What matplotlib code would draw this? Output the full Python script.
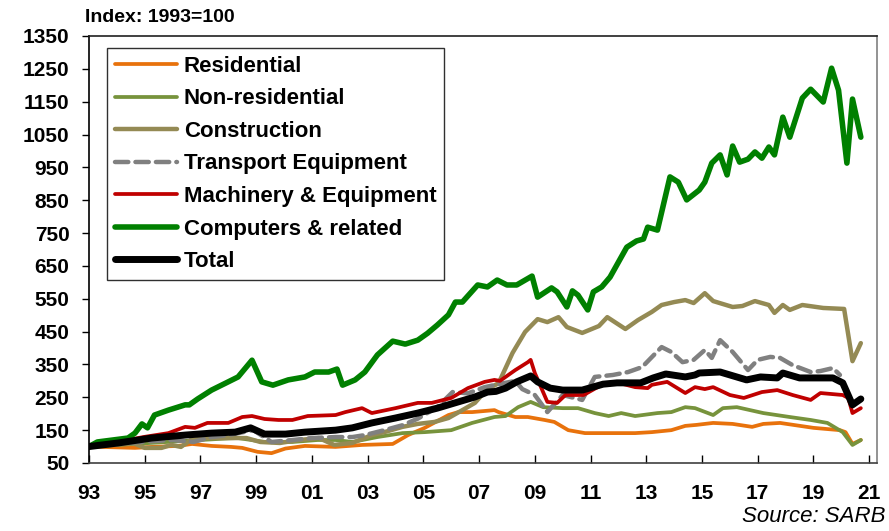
import matplotlib.pyplot as plt

plt.rcParams['font.family'] = ['Liberation Sans', 'DejaVu Sans']

# Index: 1993=100, values (decimal years)
res_years = [1993.0, 1994.65, 1995.25, 1996.2, 1996.7, 1997.4, 1998.1, 1998.5, 1999.05, 1999.55,
             2000.05, 2000.75, 2001.85, 2002.8, 2003.9, 2004.45, 2005.05, 2005.9, 2006.25, 2006.75,
             2007.55, 2007.7, 2008.3, 2008.75, 2009.35, 2009.7, 2010.2, 2010.8, 2011.4, 2012.0,
             2012.6, 2013.2, 2013.9, 2014.4, 2014.8, 2015.4, 2016.1, 2016.8, 2017.2, 2017.8,
             2019.0, 2019.95, 2020.15, 2020.4, 2020.7]
res_vals = [100, 96, 99, 102, 108, 102, 99, 96, 84, 80,
            94, 102, 99, 105, 108, 135, 157, 196, 205, 205,
            211, 205, 190, 190, 181, 175, 150, 141, 141, 141,
            141, 144, 150, 163, 166, 172, 169, 160, 169, 172,
            157, 150, 144, 108, 120]

nonres_years = [1993.0, 1994.0, 1995.0, 1996.0, 1997.0, 1998.0, 1998.35, 1999.3, 2000.3, 2001.2,
                2001.85, 2002.45, 2003.35, 2004.25, 2005.05, 2006.0, 2006.75, 2007.55, 2007.95, 2008.4,
                2008.85, 2009.3, 2010.0, 2010.55, 2011.15, 2011.65, 2012.1, 2012.6, 2013.4, 2013.9,
                2014.4, 2014.75, 2015.4, 2015.75, 2016.25, 2017.2, 2018.15, 2018.9, 2019.5, 2020.05,
                2020.4, 2020.7]
nonres_vals = [100, 105, 110, 115, 120, 125, 126, 114, 114, 120,
               120, 114, 129, 141, 144, 150, 172, 190, 193, 220,
               236, 220, 217, 217, 202, 193, 202, 193, 202, 205,
               220, 217, 196, 217, 220, 202, 190, 181, 172, 144,
               105, 120]

cons_years = [1993.0, 1993.8, 1994.6, 1995.0, 1995.6, 1995.95, 1996.3, 1996.65, 1997.25, 1997.95,
              1998.65, 1999.15, 1999.85, 2000.55, 2001.25, 2001.8, 2002.45, 2003.15, 2003.6, 2004.25,
              2004.8, 2005.4, 2005.9, 2006.4, 2006.85, 2007.1, 2007.3, 2007.7, 2008.2, 2008.65,
              2009.1, 2009.45, 2009.85, 2010.15, 2010.7, 2011.3, 2011.6, 2012.25, 2012.7, 2013.2,
              2013.55, 2014.0, 2014.4, 2014.7, 2015.1, 2015.4, 2016.1, 2016.45, 2016.9, 2017.4,
              2017.6, 2017.9, 2018.15, 2018.6, 2019.35, 2020.1, 2020.4, 2020.7]
cons_vals = [100, 105, 110, 96, 96, 105, 99, 120, 126, 126,
             126, 114, 111, 120, 126, 105, 111, 135, 144, 160,
             169, 175, 187, 211, 233, 257, 275, 293, 385, 449,
             488, 479, 494, 464, 446, 467, 494, 458, 485, 510,
             531, 540, 546, 537, 567, 543, 525, 528, 543, 531,
             507, 531, 516, 531, 522, 519, 360, 415]

trans_years = [1993.0, 1994.0, 1995.0, 1996.0, 1996.75, 1997.4, 1998.0, 1998.9, 1999.55, 2000.3,
               2001.0, 2001.85, 2002.45, 2002.9, 2003.6, 2004.25, 2004.8, 2005.5, 2006.05, 2006.6,
               2007.2, 2007.7, 2008.3, 2008.55, 2009.0, 2009.45, 2010.0, 2010.7, 2011.15, 2011.8,
               2012.35, 2012.85, 2013.55, 2013.9, 2014.3, 2014.7, 2015.1, 2015.35, 2015.65, 2016.1,
               2016.65, 2017.0, 2017.45, 2017.8, 2018.25, 2018.9, 2019.25, 2019.7, 2019.95]
trans_vals = [100, 108, 115, 120, 114, 129, 135, 150, 114, 120,
              126, 129, 129, 135, 150, 165, 185, 220, 266, 262,
              281, 290, 300, 275, 257, 205, 257, 242, 312, 318,
              327, 342, 403, 388, 357, 364, 394, 370, 424, 388,
              333, 364, 373, 370, 348, 327, 330, 339, 318]

mach_years = [1993.0, 1994.4, 1994.95, 1995.85, 1996.45, 1996.8, 1997.25, 1998.0, 1998.5, 1998.85,
              1999.3, 1999.8, 2000.3, 2000.85, 2001.85, 2002.2, 2002.8, 2003.15, 2004.0, 2004.8,
              2005.3, 2006.0, 2006.6, 2007.2, 2007.55, 2007.75, 2008.3, 2008.75, 2008.85, 2009.0,
              2009.45, 2009.8, 2010.1, 2010.75, 2011.4, 2012.0, 2012.6, 2013.05, 2013.2, 2013.75,
              2014.4, 2014.75, 2015.1, 2015.4, 2016.0, 2016.5, 2017.15, 2017.7, 2018.25, 2018.9,
              2019.25, 2020.05, 2020.25, 2020.4, 2020.7]
mach_vals = [100, 120, 129, 141, 160, 157, 172, 172, 190, 193,
             184, 181, 181, 193, 196, 205, 217, 202, 217, 233,
             233, 248, 278, 297, 303, 300, 333, 357, 364, 324,
             236, 233, 257, 257, 288, 294, 281, 278, 288, 297,
             263, 281, 275, 281, 257, 248, 266, 272, 257, 242,
             263, 257, 248, 202, 217]

comp_years = [1993.0, 1993.3, 1994.4, 1994.65, 1994.9, 1995.1, 1995.35, 1995.85, 1996.45, 1996.6,
              1996.9, 1997.4, 1997.9, 1998.35, 1998.85, 1999.2, 1999.6, 2000.15, 2000.75, 2001.1,
              2001.6, 2001.9, 2002.1, 2002.55, 2002.9, 2003.35, 2003.9, 2004.35, 2004.8, 2005.15,
              2005.5, 2005.9, 2006.15, 2006.4, 2006.95, 2007.3, 2007.65, 2008.0, 2008.35, 2008.9,
              2009.1, 2009.6, 2009.8, 2010.15, 2010.35, 2010.55, 2010.9, 2011.1, 2011.4, 2011.7,
              2012.3, 2012.65, 2012.9, 2013.05, 2013.4, 2013.85, 2014.15, 2014.45, 2014.9, 2015.1,
              2015.35, 2015.65, 2015.9, 2016.1, 2016.35, 2016.65, 2016.9, 2017.15, 2017.4, 2017.6,
              2017.9, 2018.15, 2018.6, 2018.9, 2019.35, 2019.65, 2019.9, 2020.2, 2020.4, 2020.7]
comp_vals = [100, 114, 126, 141, 169, 157, 196, 211, 227, 227,
             245, 272, 293, 312, 363, 297, 287, 303, 312, 327,
             327, 336, 287, 303, 327, 379, 421, 412, 424, 445,
             470, 501, 540, 540, 592, 586, 607, 592, 592, 619,
             555, 583, 571, 525, 574, 561, 516, 571, 586, 616,
             707, 726, 732, 768, 759, 921, 905, 851, 881, 905,
             963, 988, 927, 1015, 966, 975, 997, 978, 1012, 988,
             1103, 1042, 1161, 1188, 1149, 1252, 1185, 963, 1158, 1042]

total_years = [1993.0, 1994.05, 1995.25, 1996.45, 1997.4, 1998.25, 1998.8, 1999.3, 2000.05, 2000.75,
               2001.85, 2002.45, 2003.15, 2004.0, 2004.8, 2005.5, 2006.25, 2006.85, 2007.3, 2007.6,
               2007.95, 2008.35, 2008.85, 2009.1, 2009.55, 2010.0, 2010.7, 2011.45, 2011.95, 2012.8,
               2013.25, 2013.7, 2014.4, 2014.75, 2014.9, 2015.65, 2016.6, 2017.1, 2017.7, 2017.9,
               2018.5, 2019.7, 2020.05, 2020.4, 2020.7]
total_vals = [100, 111, 126, 135, 141, 144, 157, 138, 138, 144,
              150, 157, 172, 187, 202, 217, 236, 251, 266, 268,
              278, 297, 315, 297, 278, 272, 272, 290, 294, 294,
              309, 321, 312, 318, 324, 327, 303, 312, 309, 324,
              309, 309, 294, 227, 245]

xtick_years = list(range(1993, 2022, 2))
xtick_labels = ['%02d' % (y % 100) for y in xtick_years]
ytick_vals = list(range(50, 1351, 100))

fig = plt.figure(figsize=(8.89, 5.31), dpi=100)
ax = fig.add_axes([89 / 889, 68 / 531, 788 / 889, 427 / 531])

kw = dict(solid_joinstyle='round', solid_capstyle='round')
ax.plot(res_years, res_vals, color='#E8720C', lw=2.7, label='Residential', **kw)
ax.plot(nonres_years, nonres_vals, color='#77933C', lw=2.7, label='Non-residential', **kw)
ax.plot(cons_years, cons_vals, color='#948A54', lw=3.2, label='Construction', **kw)
ax.plot(trans_years, trans_vals, color='#808080', lw=3.2, linestyle=(0, (3.0, 1.6)),
        dash_capstyle='round', label='Transport Equipment')
ax.plot(mach_years, mach_vals, color='#C00000', lw=2.7, label='Machinery & Equipment', **kw)
ax.plot(comp_years, comp_vals, color='#008000', lw=4.0, label='Computers & related', **kw)
ax.plot(total_years, total_vals, color='black', lw=5.0, label='Total', **kw)

ax.set_xlim(1993, 2021.28)
ax.set_ylim(50, 1350)
ax.set_xticks(xtick_years)
ax.set_xticklabels(xtick_labels)
ax.set_yticks(ytick_vals)
ax.tick_params(axis='x', direction='in', length=6, width=1, pad=15, labelsize=15)
ax.tick_params(axis='y', direction='out', length=5, width=1, pad=9, labelsize=15)
for lab in ax.get_xticklabels() + ax.get_yticklabels():
    lab.set_fontweight('bold')

ax.spines['left'].set_color('black')
ax.spines['top'].set_color('#202020')
ax.spines['bottom'].set_color('#404040')
ax.spines['right'].set_color('#808080')
for s in ax.spines.values():
    s.set_linewidth(1.2)

leg = ax.legend(loc='upper left', bbox_to_anchor=(107 / 889, 1 - 48 / 531),
                bbox_transform=fig.transFigure, frameon=True, fancybox=False,
                edgecolor='#303030', framealpha=1, handlelength=2.8, handletextpad=0.3,
                labelspacing=0.52, borderpad=0.35, borderaxespad=0,
                prop={'weight': 'bold', 'size': 16})
leg.get_frame().set_linewidth(1.0)

fig.text(85 / 889, 1 - 17 / 531, 'Index: 1993=100', fontsize=14, fontweight='bold',
         ha='left', va='center')
fig.text(885 / 889, 1 - 516 / 531, 'Source: SARB', fontsize=16, style='italic',
         ha='right', va='center')

fig.savefig('out.png', dpi=100)
